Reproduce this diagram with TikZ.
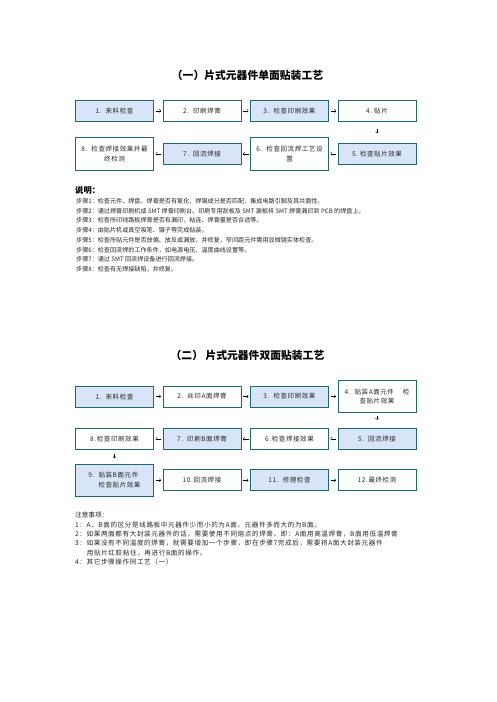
\documentclass[tikz,border=0pt]{standalone}
\usepackage{fontspec}
\setmainfont{Noto Sans CJK SC}
\newfontfamily\boxfont[LetterSpace=9]{Noto Sans CJK SC}
\newfontfamily\notefont[LetterSpace=9]{Noto Sans CJK SC}
\usetikzlibrary{positioning,arrows}
\definecolor{boxline}{RGB}{30,105,105}
\definecolor{boxblue}{RGB}{216,228,247}

\begin{document}
\begin{tikzpicture}[x=1pt,y=-1pt,node distance=8.5pt]
 \tikzstyle{blk}=[rectangle,draw=boxline,line width=1pt,minimum width=78pt,minimum height=21pt,inner sep=1pt,text=black!85,font=\boxfont\fontsize{6.5}{9.5}\selectfont,align=center]
 \tikzstyle{blu}=[blk,fill=boxblue]
 \tikzstyle{tall}=[minimum height=33pt]
 \tikzstyle{ttl}=[inner sep=0,font=\bfseries\fontsize{10.8}{13}\selectfont]
 \tikzstyle{txt}=[inner sep=0,anchor=west,text=black!85,font=\fontsize{6.1}{7}\selectfont]
 \tikzstyle{note}=[inner sep=0,anchor=west,text=black!85,font=\notefont\fontsize{6.6}{8}\selectfont]
 \tikzstyle{gap}=[->,line width=0.4pt,shorten <=1.5pt,shorten >=1.5pt]
 \useasboundingbox (0,0) rectangle (496,702);
 % single side
 \node[ttl] (T1) at (247.5,75) {（一）片式元器件单面贴装工艺};
 \node[blu] (Sa) at (114.5,110.8) {1.\ \ 来料检查};
 \node[blk] (Sb) [right=of Sa] {2.\ \ 印刷焊膏};
 \node[blu] (Sc) [right=of Sb] {3.\ \ 检查印刷效果};
 \node[blk] (Sd) [right=of Sc] {4.\ 贴片};
 \node[blu] (Se) [below=21pt of Sd] {5.\ 检查贴片效果};
 \node[blk,tall] (Sf) [left=of Se] {6.\ \ 检查回流焊工艺设\\置};
 \node[blu] (Sg) [left=of Sf] {7.\ \ 回流焊接};
 \node[blk,tall] (Sh) [left=of Sg] {8.\ \ 检查焊接效果并最\\终检测};
\draw[gap] (Sa) -- (Sb) ;
\draw[gap] (Sb) -- (Sc) ;
\draw[gap] (Sc) -- (Sd) ;
\draw[->,line width=0.4pt,shorten <=7pt,shorten >=9.5pt] (Sd) -- (Se) ;
\draw[gap] (Se) -- (Sf) ;
\draw[gap] (Sf) -- (Sg) ;
\draw[gap] (Sg) -- (Sh) ;
 % notes on the steps
 \node[inner sep=0,anchor=west,font=\bfseries\fontsize{8.3}{10}\selectfont] (Sm) at (75,190) {说明：};
 \node[txt] (St1) at (76,201) {步骤1：检查元件、焊盘、焊膏是否有氧化、焊锡成分是否匹配，集成电路引脚及其共面性。};
 \node[txt] (St2) at (76,210.8) {步骤2：通过焊膏印刷机或 SMT 焊膏印刷台、印刷专用刮板及 SMT 漏板将 SMT 焊膏漏印到 PCB 的焊盘上。};
 \node[txt] (St3) at (76,220.5) {步骤3：检查所印线路板焊膏是否有漏印，粘连、焊膏量是否合适等。};
 \node[txt] (St4) at (76,230.3) {步骤4：由贴片机或真空吸笔、镊子等完成贴装。};
 \node[txt] (St5) at (76,240) {步骤5：检查所贴元件是否放偏、放反或漏放，并修复，窄间距元件需用显微镜实体检查。};
 \node[txt] (St6) at (76,249.8) {步骤6：检查回流焊的工作条件，如电源电压、温度曲线设置等。};
 \node[txt] (St7) at (76,259.5) {步骤7：通过 SMT 回流焊设备进行回流焊接。};
 \node[txt] (St8) at (76,269.3) {步骤8：检查有无焊接缺陷，并修复。};
 % double side
 \node[ttl] (T2) at (247.5,355) {（二）\ 片式元器件双面贴装工艺};
 \node[blu] (Da) at (114.5,396.5) {1.\ \ 来料检查};
 \node[blk] (Db) [right=of Da] {2.\ \ 丝印A面焊膏};
 \node[blu] (Dc) [right=of Db] {3.\ \ 检查印刷效果};
 \node[blk,minimum height=31.5pt] (Dd) [right=of Dc] {4.\ \ 贴装A面元件\hspace{9pt}检\\查贴片效果};
 \node[blu] (De) [below=15pt of Dd] {5.\ \ 回流焊接};
 \node[blk] (Df) [left=of De] {6.检查焊接效果};
 \node[blu] (Dg) [left=of Df] {7.\ \ 印刷B面焊膏};
 \node[blk] (Dh) [left=of Dg] {8.检查印刷效果};
 \node[blu,minimum height=32pt,align=left] (Di) [below=14pt of Dh] {9.\ \ 贴装B面元件\\\hphantom{9.\ \ }检查贴片效果};
 \node[blk] (Dj) [right=of Di] {10.回流焊接};
 \node[blu] (Dk) [right=of Dj] {11.\ \ 修理检查};
 \node[blk] (Dl) [right=of Dk] {12.最终检测};
\draw[gap] (Da) -- (Db) ;
\draw[gap] (Db) -- (Dc) ;
\draw[gap] (Dc) -- (Dd) ;
\draw[->,line width=0.4pt,shorten <=3pt,shorten >=8pt] (Dd) -- (De) ;
\draw[gap] (De) -- (Df) ;
\draw[gap] (Df) -- (Dg) ;
\draw[gap] (Dg) -- (Dh) ;
\draw[->,line width=0.4pt,shorten <=4pt,shorten >=5.5pt] (Dh.south) -- (Dh.south |- Di.north) ;
\draw[gap] (Di) -- (Dj) ;
\draw[gap] (Dj) -- (Dk) ;
\draw[gap] (Dk) -- (Dl) ;
 % cautions
 \node[inner sep=0,anchor=west,text=black!85,font=\fontsize{6.6}{8}\selectfont] (Nt) at (75,515) {注意事项：};
 \node[note] (N1) at (75,525) {1：A、B面的区分是线路板中元器件少而小的为A面，元器件多而大的为B面。};
 \node[note] (N2) at (75,534.3) {2：如果两面都有大封装元器件的话，需要使用不同熔点的焊膏。即：A面用高温焊膏，B面用低温焊膏};
 \node[note] (N3) at (75,543.5) {3：如果没有不同温度的焊膏，就需要增加一个步骤，即在步骤7完成后，需要将A面大封装元器件};
 \node[note] (N3b) at (86.7,552.7) {用贴片红胶粘住，再进行B面的操作。};
 \node[note] (N4) at (75,562) {4：其它步骤操作同工艺（一）};
\end{tikzpicture}
\end{document}
